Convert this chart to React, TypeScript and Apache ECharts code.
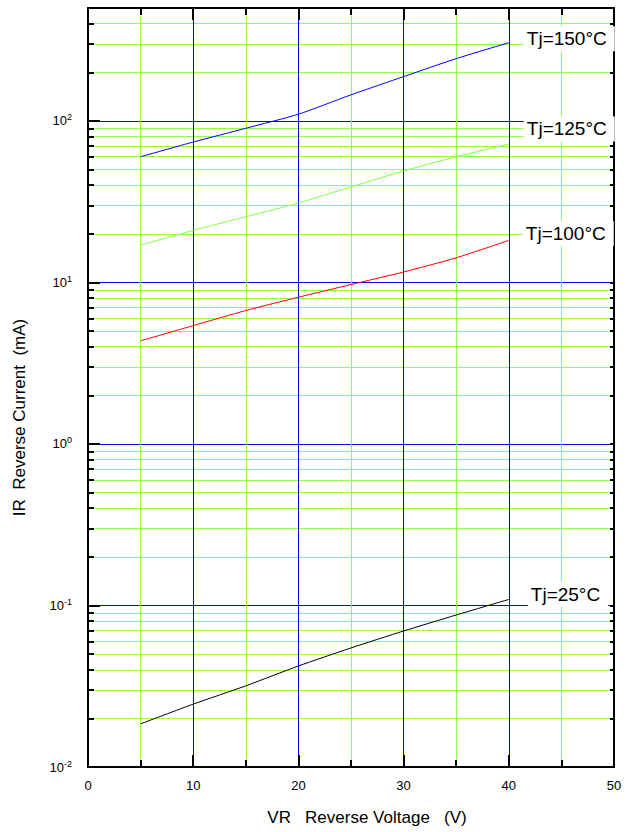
import React, { useEffect, useRef } from "react";
import * as echarts from "echarts";

const voltages = [5, 10, 15, 20, 25, 30, 35, 40];
const ir150 = [60, 74, 90, 110, 145, 188, 243, 305];
const ir125 = [17, 21, 25.5, 31, 39, 49, 60, 72];
const ir100 = [4.35, 5.4, 6.7, 8.1, 9.7, 11.6, 14.2, 18.2];
const ir25 = [0.0185, 0.0245, 0.0318, 0.0422, 0.0546, 0.0695, 0.0873, 0.109];

const seriesNames = ["Tj=150°C", "Tj=125°C", "Tj=100°C", "Tj=25°C"];
const seriesColors = ["#0000ff", "#80ff40", "#ff0000", "#000000"];

const minorValues = [
  0.02, 0.03, 0.04, 0.05, 0.06, 0.07, 0.08, 0.09,
  0.2, 0.3, 0.4, 0.5, 0.6, 0.7, 0.8, 0.9,
  2, 3, 4, 5, 6, 7, 8, 9,
  20, 30, 40, 50, 60, 70, 80, 90,
  200, 300, 400,
];
const decadeValues = [0.01, 0.1, 1, 10, 100];

const FONT = '"Liberation Sans", Arial, sans-serif';
const GREEN = "#8cff4a";
const BLUE = "#0000ff";

export default function App() {
  const ref = useRef<HTMLDivElement>(null);
  useEffect(() => {
    if (!ref.current) return;
    const chart = echarts.init(ref.current, undefined, { renderer: "svg" });
    const pair = (ys: number[]) => voltages.map((v, i) => [v, ys[i]]);
    const all = [ir150, ir125, ir100, ir25];
    const offsets = [[7, -4], [7, -15], [6, -7], [11, -5]];
    const yFmt = (v: number) => {
      const e = Math.round(Math.log10(v));
      if (Math.abs(Math.log10(v) - e) > 1e-6) return "";
      return `{b|10}{s|${e}}`;
    };
    const logBase = { type: "log", logBase: 10, min: 0.01, max: 500 };
    chart.setOption({
      animation: false,
      backgroundColor: "#fff",
      textStyle: { fontFamily: FONT },
      grid: {
        left: 88, top: 8, width: 526, height: 759,
        show: true, borderColor: "#000", borderWidth: 2,
        backgroundColor: "transparent",
      },
      xAxis: [
        {
          type: "value", min: 0, max: 50, interval: 10, position: "bottom",
          name: "VR   Reverse Voltage   (V)", nameLocation: "middle", nameGap: 42,
          nameTextStyle: { fontSize: 17, color: "#000", fontFamily: FONT, padding: [0, 0, 0, 32] },
          axisLine: { show: true, lineStyle: { color: "#000", width: 2 } },
          axisTick: { show: true, inside: true, length: 12, lineStyle: { color: "#000", width: 2 } },
          minorTick: { show: true, splitNumber: 2, length: 7, lineStyle: { color: "#000", width: 2 } },
          axisLabel: { fontSize: 13, color: "#000", margin: 12, fontFamily: FONT },
          splitLine: { show: true, lineStyle: { color: BLUE, width: 1 } },
          minorSplitLine: { show: true, lineStyle: { color: GREEN, width: 1 } },
        },
        {
          type: "value", min: 0, max: 50, interval: 10, position: "top",
          axisLine: { show: true, lineStyle: { color: "#000", width: 2 } },
          axisTick: { show: true, inside: true, length: 12, lineStyle: { color: "#000", width: 2 } },
          minorTick: { show: true, splitNumber: 2, length: 7, lineStyle: { color: "#000", width: 2 } },
          axisLabel: { show: false },
          splitLine: { show: false },
        },
      ],
      yAxis: [
        {
          ...logBase, position: "left",
          axisTick: { show: true, inside: true, length: 6, customValues: minorValues, lineStyle: { color: "#000", width: 2 } },
          axisLine: { show: false },
          axisLabel: { show: false },
          splitLine: { show: true, lineStyle: { color: GREEN, width: 1 } },
        },
        {
          ...logBase, position: "left",
          name: "IR  Reverse Current  (mA)", nameLocation: "middle", nameGap: 60,
          nameTextStyle: { fontSize: 17, color: "#000", fontFamily: FONT, padding: [0, 60, 0, 0] },
          axisLine: { show: true, lineStyle: { color: "#000", width: 2 } },
          axisTick: { show: true, inside: true, length: 12, lineStyle: { color: "#000", width: 2 } },
          axisLabel: {
            show: true, margin: 16, showMaxLabel: false, formatter: yFmt,
            rich: {
              b: { fontSize: 13, color: "#000", fontFamily: FONT, lineHeight: 16 },
              s: { fontSize: 9, color: "#000", fontFamily: FONT, lineHeight: 9, verticalAlign: "top" },
            },
          },
          splitLine: { show: true, lineStyle: { color: BLUE, width: 1 } },
        },
        {
          ...logBase, position: "right",
          axisTick: { show: true, inside: true, length: 4, customValues: minorValues.concat(decadeValues), lineStyle: { color: "#000", width: 2 } },
          axisLine: { show: true, lineStyle: { color: "#000", width: 2 } },
          axisLabel: { show: false },
          splitLine: { show: false },
        },
      ],
      series: all.map((ys, i) => ({
        type: "line",
        name: seriesNames[i],
        xAxisIndex: 0,
        yAxisIndex: 1,
        data: pair(ys),
        showSymbol: false,
        smooth: 0.2,
        lineStyle: { color: seriesColors[i], width: 1 },
        itemStyle: { color: seriesColors[i] },
        z: 5,
        endLabel: {
          show: true,
          formatter: "{a}",
          fontSize: 19,
          color: "#000",
          fontFamily: FONT,
          backgroundColor: "#fff",
          padding: [3, 8, 3, 3],
          offset: offsets[i],
        },
      })),
    });
    return () => chart.dispose();
  }, []);
  return (
    <div
      ref={ref}
      style={{ position: "absolute", left: 0, top: 0, width: 634, height: 832 }}
    />
  );
}
